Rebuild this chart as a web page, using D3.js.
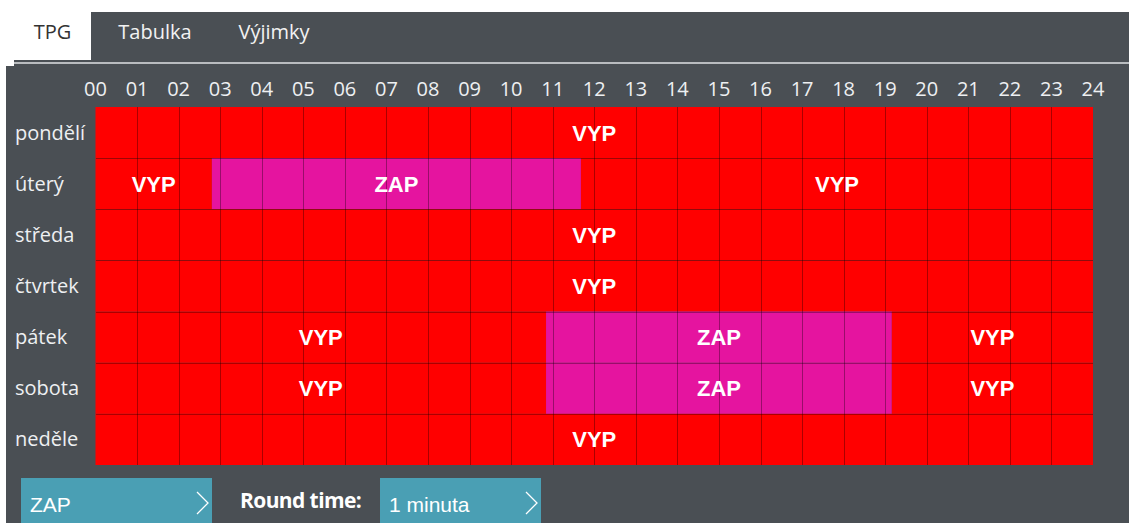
<!DOCTYPE html>
<meta charset="utf-8">
<style>
body { margin: 0; background: #fff; }
svg { display: block; }
.tab { font-family: "Open Sans", sans-serif; font-size: 20px; }
.hour, .day { font-family: "Open Sans", sans-serif; font-size: 20px; fill: #eef0f2; }
.state { font-family: "Liberation Sans", Arial, sans-serif; font-weight: bold; font-size: 22px; fill: #fff; }
.grid { stroke: #000; stroke-opacity: 0.33; stroke-width: 1px; shape-rendering: crispEdges; }
</style>
<body>
<script src="https://cdn.jsdelivr.net/npm/d3@7"></script>
<script>
var width = 1129,
    height = 523;

var tabs = ['TPG', 'Tabulka', 'Výjimky'];
var days = ['pondělí', 'úterý', 'středa', 'čtvrtek', 'pátek', 'sobota', 'neděle'];
var hours = d3.range(0, 25);
// on/off intervals per day, in decimal hours
var segments = [
  {day: 'pondělí', from: 0, to: 24, state: 'VYP'},
  {day: 'úterý', from: 0, to: 2.8, state: 'VYP'},
  {day: 'úterý', from: 2.8, to: 11.68, state: 'ZAP'},
  {day: 'úterý', from: 11.68, to: 24, state: 'VYP'},
  {day: 'středa', from: 0, to: 24, state: 'VYP'},
  {day: 'čtvrtek', from: 0, to: 24, state: 'VYP'},
  {day: 'pátek', from: 0, to: 10.84, state: 'VYP'},
  {day: 'pátek', from: 10.84, to: 19.16, state: 'ZAP'},
  {day: 'pátek', from: 19.16, to: 24, state: 'VYP'},
  {day: 'sobota', from: 0, to: 10.84, state: 'VYP'},
  {day: 'sobota', from: 10.84, to: 19.16, state: 'ZAP'},
  {day: 'sobota', from: 19.16, to: 24, state: 'VYP'},
  {day: 'neděle', from: 0, to: 24, state: 'VYP'}
];
var modeLabel = 'ZAP',
    roundLabel = 'Round time:',
    roundValue = '1 minuta';

var colors = {VYP: '#ff0000', ZAP: '#e5149f'};

var svg = d3.select('body').append('svg')
    .attr('width', width)
    .attr('height', height);

// panel background
svg.append('rect').attr('x', 6).attr('y', 12).attr('width', width - 6).attr('height', height - 12).attr('fill', '#4a4f54');
svg.append('rect').attr('x', 6).attr('y', 12).attr('width', 8).attr('height', 54).attr('fill', '#fff');

// tabs
var tabX = [52.5, 155, 274];
svg.append('rect').attr('x', 14).attr('y', 12).attr('width', 77).attr('height', 48).attr('fill', '#fff');
svg.selectAll('.tab').data(tabs).enter().append('text')
    .attr('class', 'tab')
    .attr('x', function(d, i) { return tabX[i]; })
    .attr('y', 39)
    .attr('text-anchor', 'middle')
    .attr('fill', function(d, i) { return i === 0 ? '#333' : '#f2f2f2'; })
    .text(function(d) { return d; });
svg.append('rect').attr('x', 14).attr('y', 62).attr('width', width - 14).attr('height', 2).attr('fill', '#b9bcbf');

var x = d3.scaleLinear().domain([0, 24]).range([95.5, 1093]);
var y = d3.scaleBand().domain(days).range([107, 465]);

// hour labels
svg.selectAll('.hour').data(hours).enter().append('text')
    .attr('class', 'hour')
    .attr('x', function(d) { return x(d); })
    .attr('y', 96)
    .attr('text-anchor', 'middle')
    .text(function(d) { return d3.format('02d')(d); });

// day labels
svg.selectAll('.day').data(days).enter().append('text')
    .attr('class', 'day')
    .attr('x', 15)
    .attr('y', function(d) { return y(d) + y.bandwidth() / 2 + 7; })
    .text(function(d) { return d; });

// segments
svg.selectAll('.seg').data(segments).enter().append('rect')
    .attr('class', 'seg')
    .attr('x', function(d) { return x(d.from); })
    .attr('y', function(d) { return y(d.day); })
    .attr('width', function(d) { return x(d.to) - x(d.from); })
    .attr('height', y.bandwidth())
    .attr('fill', function(d) { return colors[d.state]; });

// grid
var g = svg.append('g');
g.selectAll('.v').data(hours.slice(1, 24)).enter().append('line')
    .attr('class', 'grid')
    .attr('x1', function(d) { return Math.round(x(d)) + 0.5; })
    .attr('x2', function(d) { return Math.round(x(d)) + 0.5; })
    .attr('y1', y.range()[0])
    .attr('y2', y.range()[1]);
g.selectAll('.h').data(days.slice(1)).enter().append('line')
    .attr('class', 'grid')
    .attr('x1', x(0))
    .attr('x2', x(24))
    .attr('y1', function(d) { return Math.round(y(d)) + 0.5; })
    .attr('y2', function(d) { return Math.round(y(d)) + 0.5; });

// state labels
svg.selectAll('.state').data(segments).enter().append('text')
    .attr('class', 'state')
    .attr('x', function(d) { return (x(d.from) + x(d.to)) / 2; })
    .attr('y', function(d) { return y(d.day) + y.bandwidth() / 2 + 8; })
    .attr('text-anchor', 'middle')
    .text(function(d) { return d.state; });

// bottom controls
function button(x0, w, label) {
  svg.append('rect').attr('x', x0).attr('y', 478).attr('width', w).attr('height', 50).attr('fill', '#4a9fb4');
  svg.append('text').attr('x', x0 + 9).attr('y', 512)
      .attr('fill', '#fff')
      .style('font-family', '"Liberation Sans", Arial, sans-serif')
      .style('font-size', '21px')
      .text(label);
  svg.append('path')
      .attr('d', 'M' + (x0 + w - 15) + ',492L' + (x0 + w - 4) + ',503L' + (x0 + w - 15) + ',514')
      .attr('fill', 'none')
      .attr('stroke', '#fff')
      .attr('stroke-width', 1.3);
}
button(21, 191, modeLabel);
svg.append('text').attr('x', 240).attr('y', 508)
    .attr('fill', '#fff')
    .style('font-family', '"Open Sans", sans-serif')
    .style('font-weight', 'bold')
    .style('font-size', '21px')
    .style('letter-spacing', '-0.6px')
    .text(roundLabel);
button(380, 161, roundValue);
</script>
</body>
